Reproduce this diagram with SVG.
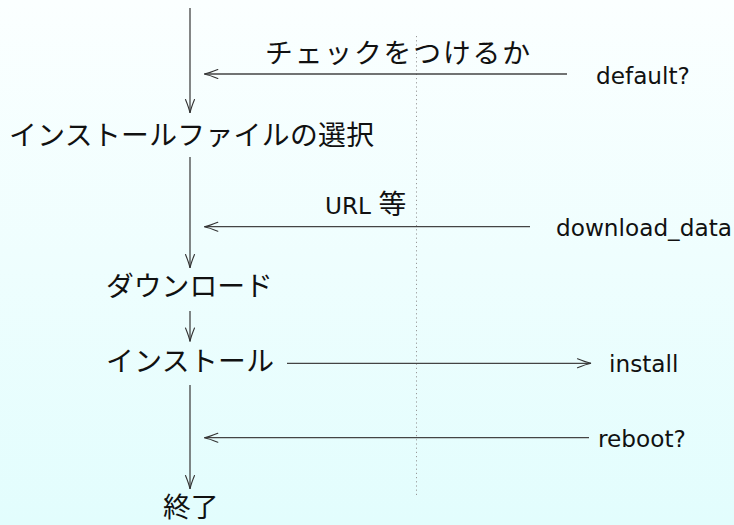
<svg xmlns="http://www.w3.org/2000/svg" width="734" height="525" viewBox="0 0 734 525">
<defs>
<linearGradient id="bg" x1="0" y1="0" x2="0" y2="1">
<stop offset="0" stop-color="#fbffff"/>
<stop offset="1" stop-color="#e2fdfd"/>
</linearGradient>
<marker id="ah" markerUnits="userSpaceOnUse" viewBox="-16 -7 18 14" refX="0" refY="0" markerWidth="18" markerHeight="14" orient="auto" overflow="visible">
<path d="M -13.5 -4.5 Q -5 -1 0 0 Q -5 1 -13.5 4.5" fill="none" stroke="#333" stroke-width="1.1" stroke-linecap="round"/>
</marker>
<style>
.jp{font-family:"Noto Sans CJK JP","Noto Sans CJK SC",sans-serif;font-size:27.8px;fill:#111}
.lt{font-family:"DejaVu Sans","Liberation Sans",sans-serif;font-size:23.2px;fill:#111}
.ln{fill:none;stroke:#444;stroke-width:1.3;marker-end:url(#ah)}
.dot{fill:none;stroke:#999;stroke-width:1;stroke-dasharray:1.2 3}
</style>
</defs>
<rect width="734" height="525" fill="url(#bg)"/>
<line class="dot" x1="416.5" y1="36" x2="416.5" y2="498"/>
<g id="connectors">
<line class="ln" x1="190" y1="8" x2="190" y2="113"/>
<line class="ln" x1="190" y1="157" x2="190" y2="268"/>
<line class="ln" x1="190" y1="311" x2="190" y2="341.5"/>
<line class="ln" x1="190" y1="385" x2="190" y2="489"/>
<line class="ln" x1="567" y1="74" x2="204.3" y2="74"/>
<line class="ln" x1="530" y1="226.7" x2="204.3" y2="226.7"/>
<line class="ln" x1="287" y1="363.3" x2="591" y2="363.3"/>
<line class="ln" x1="589" y1="437.7" x2="204.3" y2="437.7"/>
</g>
<g id="label-check"><text class="jp" x="265" y="63" textLength="265" lengthAdjust="spacing">チェックをつけるか</text></g>
<g id="label-url"><text x="325" y="214.3"><tspan class="lt">URL </tspan><tspan class="jp">等</tspan></text></g>
<g id="n-select"><text class="jp" x="9" y="145" textLength="365" lengthAdjust="spacing">インストールファイルの選択</text></g>
<g id="n-download"><text class="jp" x="106" y="296">ダウンロード</text></g>
<g id="n-install"><text class="jp" x="106" y="371" textLength="168" lengthAdjust="spacing">インストール</text></g>
<g id="n-end"><text class="jp" x="163" y="517">終了</text></g>
<g id="n-default"><text class="lt" x="596" y="84.3">default?</text></g>
<g id="n-download-data"><text class="lt" x="556" y="235.7">download_data</text></g>
<g id="n-install-out"><text class="lt" x="609" y="372">install</text></g>
<g id="n-reboot"><text class="lt" x="598" y="446.7">reboot?</text></g>
</svg>
